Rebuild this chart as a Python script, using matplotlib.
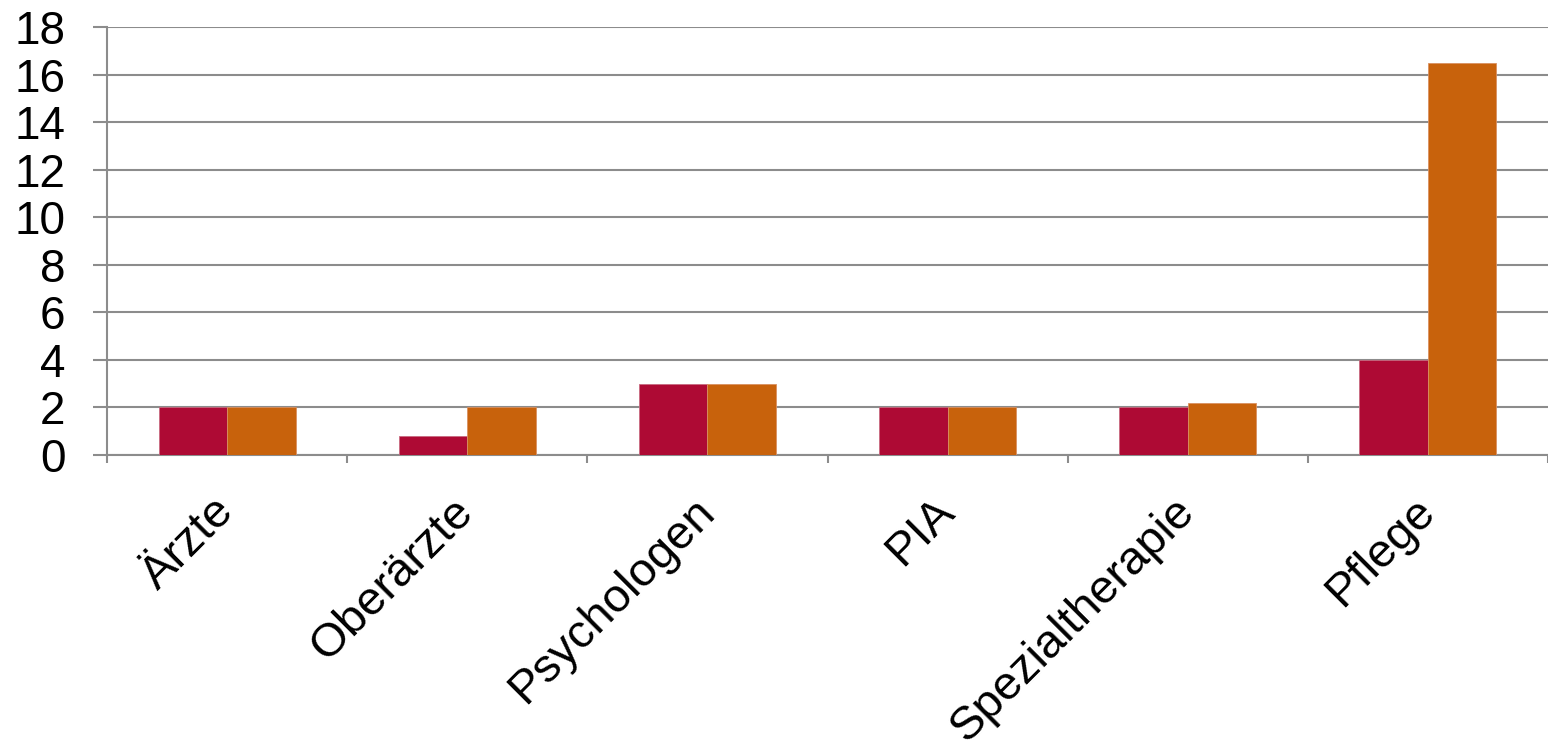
import matplotlib.pyplot as plt
import numpy as np

plt.rcParams['font.family'] = ['Liberation Sans', 'DejaVu Sans']

categories = ["Ärzte", "Oberärzte", "Psychologen", "PIA", "Spezialtherapie", "Pflege"]
series_a = [2, 0.8, 3, 2, 2, 4]      # red
series_b = [2, 2, 3, 2, 2.2, 16.5]   # orange
yticks = [0, 2, 4, 6, 8, 10, 12, 14, 16, 18]

red = "#AE0A34"
orange = "#C8620C"
grid_gray = "#8C8C8C"

fig = plt.figure(figsize=(15.48, 7.43), dpi=100)
ax = fig.add_axes([107 / 1548, 1 - 455 / 743, 1 - 107 / 1548, (455 - 27) / 743])

x = np.arange(len(categories))
w = 0.285
ax.bar(x - w / 2, series_a, width=w, color=red, edgecolor="#C86A80", linewidth=0.6, zorder=3)
ax.bar(x + w / 2, series_b, width=w, color=orange, edgecolor="#D99060", linewidth=0.6, zorder=3)

ax.set_xlim(-0.5, 5.472)
ax.set_ylim(0, 18)
ax.set_yticks(yticks)
ax.yaxis.grid(True, color=grid_gray, linewidth=1.5, zorder=0)
ax.set_axisbelow(True)

# category boundaries as major ticks, labels on minor ticks at centers
ax.set_xticks(np.arange(-0.5, 6, 1))
ax.set_xticklabels([])
ax.set_xticks(x, minor=True)
ax.set_xticklabels(categories, minor=True, rotation=45, ha="right", va="center",
                   rotation_mode="anchor", fontsize=34)
ax.tick_params(axis="x", which="major", direction="out", length=6, width=1.5, color=grid_gray)
ax.tick_params(axis="x", which="minor", length=0, pad=36)
ax.tick_params(axis="y", direction="out", length=10, width=1.5, color=grid_gray,
               labelsize=33, pad=20)

for side in ["top", "right"]:
    ax.spines[side].set_visible(False)
ax.spines["left"].set_color(grid_gray)
ax.spines["left"].set_linewidth(1.5)
ax.spines["bottom"].set_color(grid_gray)
ax.spines["bottom"].set_linewidth(1.5)

fig.savefig("out.png", dpi=100)
